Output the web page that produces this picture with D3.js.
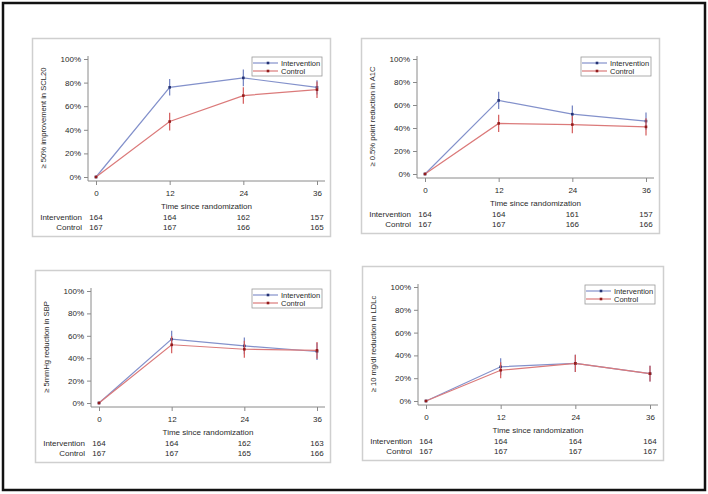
<!DOCTYPE html>
<html>
<head>
<meta charset="utf-8">
<script src="https://cdn.jsdelivr.net/npm/d3@7"></script>
<style>
	body { margin: 0; background: #fff; }
	svg text { font-family: "Liberation Sans", Arial, sans-serif; fill: #2a2a2a; }
</style>
</head>
<body>
<svg class="chart"></svg>
<script>

// months since randomization
var months = [0, 12, 24, 36];
var yTicks = [0, 20, 40, 60, 80, 100];
var seriesNames = ["Intervention", "Control"];

var yLabels = [
	"\u2265 50% improvement in SCL20",
	"\u2265 0.5% point reduction in A1C",
	"\u2265 5mmHg reduction in SBP",
	"\u2265 10 mg/dl reduction in LDLc"
];

// percent reaching outcome
var interventionPct = [
	[0, 76, 84, 76],
	[0, 64, 52, 46],
	[0, 57, 51, 46],
	[0, 30, 33, 24]
];
var controlPct = [
	[0, 47, 69, 74],
	[0, 44, 43, 41],
	[0, 52, 48, 47],
	[0, 27, 33, 24]
];
// half width of the confidence interval (percent points)
var interventionCi = [
	[0, 7, 7, 6],
	[0, 7.5, 7.5, 7.5],
	[0, 7.5, 7.5, 7.5],
	[0, 7.5, 7.5, 7]
];
var controlCi = [
	[0, 7.5, 7, 7],
	[0, 7.5, 7.5, 7.5],
	[0, 7.5, 7.5, 7.5],
	[0, 7, 7.5, 7]
];

// numbers at risk
var interventionN = [
	[164, 164, 162, 157],
	[164, 164, 161, 157],
	[164, 164, 162, 163],
	[164, 164, 164, 164]
];
var controlN = [
	[167, 167, 166, 165],
	[167, 167, 166, 166],
	[167, 167, 165, 166],
	[167, 167, 167, 167]
];

var svgWidth = 708,
	svgHeight = 494;

var chart = d3.select( ".chart" )
	.attr( "width", svgWidth )
	.attr( "height", svgHeight );

// outer frame
chart.append( "rect" )
	.attr( "x", 3 ).attr( "y", 3 )
	.attr( "width", 702 ).attr( "height", 487 )
	.attr( "fill", "none" )
	.attr( "stroke", "#111" )
	.attr( "stroke-width", 2.5 );

// panel boxes: left, top, right, bottom
var boxes = [
	[32, 38, 330, 236],
	[361, 38, 659, 233],
	[35, 270, 330, 462],
	[362, 266, 663, 460]
];

var colors = {
	Intervention: { line: "#8391cb", bar: "#6f7fc0", dot: "#243273" },
	Control: { line: "#db7a7a", bar: "#d45a5a", dot: "#921c1c" }
};

boxes.forEach( function( b, p ) {
	var left = b[0], top = b[1], right = b[2], bottom = b[3];
	var g = chart.append( "g" );

	g.append( "rect" )
		.attr( "x", left + 0.5 ).attr( "y", top + 0.5 )
		.attr( "width", right - left ).attr( "height", bottom - top )
		.attr( "fill", "#fff" )
		.attr( "stroke", "#cfcfcf" )
		.attr( "stroke-width", 1.5 );

	var x0 = left + 64,
		x1 = right - 13,
		yBottom = bottom - 59,
		yTop = top + 21,
		axisX = left + 56,
		axisY = yBottom + 4;

	var x = d3.scaleLinear().domain( [0, 36] ).range( [x0, x1] );
	var y = d3.scaleLinear().domain( [0, 100] ).range( [yBottom, yTop] );

	// y axis
	var yAxis = g.append( "g" )
		.attr( "transform", "translate(" + axisX + ",0)" )
		.call( d3.axisLeft( y ).tickValues( yTicks ).tickSize( 4 ).tickPadding( 3 )
			.tickFormat( function(d) { return d + "%"; } ) );
	yAxis.select( ".domain" ).remove();
	yAxis.selectAll( "line" ).attr( "stroke", "#8a8a8a" );
	yAxis.selectAll( "text" ).attr( "font-size", 8 ).attr( "font-family", null );

	// x axis
	var xAxis = g.append( "g" )
		.attr( "transform", "translate(0," + axisY + ")" )
		.call( d3.axisBottom( x ).tickValues( months ).tickSize( 4 ).tickPadding( 5 ) );
	xAxis.select( ".domain" ).remove();
	xAxis.selectAll( "line" ).attr( "stroke", "#8a8a8a" );
	xAxis.selectAll( "text" ).attr( "font-size", 8 ).attr( "font-family", null );

	// axis lines meet at the corner
	g.append( "path" )
		.attr( "d", "M" + axisX + "," + ( y( 100 ) - 3 ) + "V" + axisY + "H" + ( x( 36 ) + 8 ) )
		.attr( "fill", "none" )
		.attr( "stroke", "#8a8a8a" )
		.attr( "stroke-width", 1 );

	g.append( "text" )
		.attr( "x", ( x0 + x1 ) / 2 )
		.attr( "y", yBottom + 32 )
		.attr( "text-anchor", "middle" )
		.attr( "font-size", 8 )
		.text( "Time since randomization" );

	g.append( "text" )
		.attr( "transform", "translate(" + ( left + 14 ) + "," + ( ( y( 100 ) + yBottom ) / 2 ) + ") rotate(-90)" )
		.attr( "text-anchor", "middle" )
		.attr( "font-size", 7.6 )
		.text( yLabels[p] );

	// numbers at risk
	var riskRows = [
		{ name: "Intervention", n: interventionN[p], dy: 43 },
		{ name: "Control", n: controlN[p], dy: 53 }
	];
	riskRows.forEach( function( r ) {
		g.append( "text" )
			.attr( "x", left + 50 )
			.attr( "y", yBottom + r.dy )
			.attr( "text-anchor", "end" )
			.attr( "font-size", 8 )
			.text( r.name );
		g.selectAll( null )
			.data( r.n )
			.enter()
			.append( "text" )
			.attr( "x", function(d, i) { return x( months[i] ); } )
			.attr( "y", yBottom + r.dy )
			.attr( "text-anchor", "middle" )
			.attr( "font-size", 8 )
			.text( function(d) { return d; } );
	} );

	var series = [
		{ name: "Intervention", pct: interventionPct[p], ci: interventionCi[p] },
		{ name: "Control", pct: controlPct[p], ci: controlCi[p] }
	];

	var line = d3.line()
		.x( function(d, i) { return x( months[i] ); } )
		.y( function(d) { return y( d ); } );

	series.forEach( function( s ) {
		var c = colors[s.name];
		var pts = s.pct.map( function(v, i) {
			return { month: months[i], pct: v, ci: s.ci[i] };
		} );

		g.append( "path" )
			.datum( s.pct )
			.attr( "d", line )
			.attr( "fill", "none" )
			.attr( "stroke", c.line )
			.attr( "stroke-width", 1.2 );

		g.selectAll( null )
			.data( pts.filter( function(d) { return d.ci > 0; } ) )
			.enter()
			.append( "line" )
			.attr( "x1", function(d) { return x( d.month ); } )
			.attr( "x2", function(d) { return x( d.month ); } )
			.attr( "y1", function(d) { return y( d.pct + d.ci ); } )
			.attr( "y2", function(d) { return y( d.pct - d.ci ); } )
			.attr( "stroke", c.bar )
			.attr( "stroke-width", 1.2 );

		g.selectAll( null )
			.data( pts )
			.enter()
			.append( "rect" )
			.attr( "x", function(d) { return x( d.month ) - 1.3; } )
			.attr( "y", function(d) { return y( d.pct ) - 1.3; } )
			.attr( "width", 2.6 )
			.attr( "height", 2.6 )
			.attr( "fill", c.dot );
	} );

	// legend
	var lw = 70, lh = 19;
	var lx = right - 8 - lw, ly = top + 19;
	var legend = g.append( "g" ).attr( "transform", "translate(" + lx + "," + ly + ")" );
	legend.append( "rect" )
		.attr( "width", lw ).attr( "height", lh )
		.attr( "fill", "#fff" )
		.attr( "stroke", "#9a9a9a" )
		.attr( "stroke-width", 0.8 );
	seriesNames.forEach( function( name, i ) {
		var c = colors[name];
		var ry = 6 + i * 8;
		legend.append( "line" )
			.attr( "x1", 1 ).attr( "x2", 26 )
			.attr( "y1", ry ).attr( "y2", ry )
			.attr( "stroke", c.line )
			.attr( "stroke-width", 1.2 );
		legend.append( "rect" )
			.attr( "x", 14.7 ).attr( "y", ry - 1.3 )
			.attr( "width", 2.6 ).attr( "height", 2.6 )
			.attr( "fill", c.dot );
		legend.append( "text" )
			.attr( "x", 29 ).attr( "y", ry + 2.7 )
			.attr( "font-size", 7.5 )
			.text( name );
	} );
} );

</script>
</body>
</html>
